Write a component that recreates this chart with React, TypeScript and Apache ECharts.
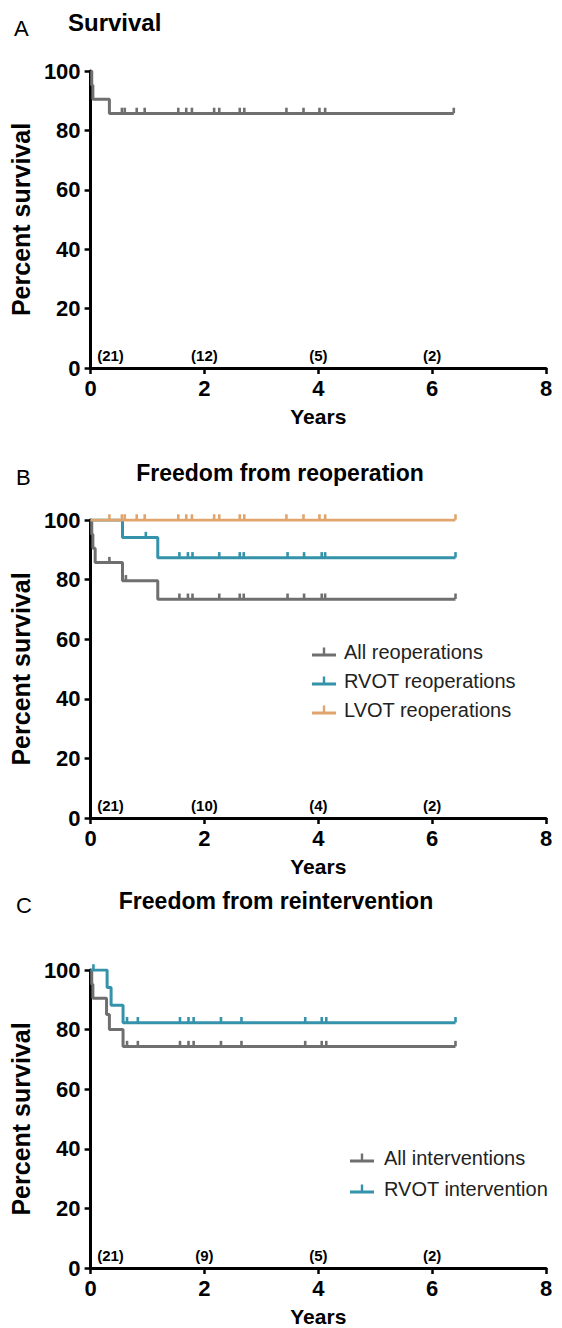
import React, { useEffect, useRef } from "react";
import * as echarts from "echarts";

const FONT = '"Liberation Sans", Arial, Helvetica, sans-serif';
const GREY = "#6f6f6f";
const TEAL = "#3592ab";
const TAN = "#e0a46c";

// ---------- Panel A: Survival ----------
const survTimes = [0, 0.02, 0.04, 0.33, 6.38];
const survValues = [100, 95.2, 90.5, 85.7, 85.7];
const survCensored = [0.55, 0.6, 0.81, 0.95, 1.54, 1.68, 1.78, 2.17, 2.26, 2.62, 2.7, 3.44, 3.74, 4.02, 4.12, 6.38];
const atRiskYears = [0.35, 2, 4, 6];
const atRiskA = [21, 12, 5, 2];

// ---------- Panel B: Freedom from reoperation ----------
const allReopTimes = [0, 0.02, 0.04, 0.08, 0.56, 1.18, 6.41];
const allReopValues = [100, 95.2, 90.5, 85.7, 79.6, 73.4, 73.4];
const allReopCensored = [0.33, 0.62, 1.56, 1.71, 1.79, 2.26, 2.62, 2.69, 3.46, 3.75, 4.06, 4.12, 6.41];
const rvotReopTimes = [0, 0.56, 1.18, 6.41];
const rvotReopValues = [100, 94.1, 87.3, 87.3];
const rvotReopCensored = [0.97, 1.56, 1.71, 1.79, 2.26, 2.62, 2.69, 3.46, 3.75, 4.06, 4.12, 6.41];
const lvotReopTimes = [0, 6.41];
const lvotReopValues = [100, 100];
const lvotReopCensored = [0.33, 0.55, 0.6, 0.81, 0.95, 1.54, 1.68, 1.78, 2.17, 2.26, 2.62, 2.7, 3.44, 3.74, 4.02, 4.12, 6.41];
const atRiskB = [21, 10, 4, 2];

// ---------- Panel C: Freedom from reintervention ----------
const allIntTimes = [0, 0.02, 0.04, 0.28, 0.33, 0.57, 6.41];
const allIntValues = [100, 95.2, 90.5, 85.1, 80.0, 74.3, 74.3];
const allIntCensored = [0.64, 0.83, 1.57, 1.72, 1.81, 2.29, 2.65, 3.77, 4.06, 4.14, 6.41];
const rvotIntTimes = [0, 0.29, 0.36, 0.57, 6.41];
const rvotIntValues = [100, 94.1, 88.2, 82.3, 82.3];
const rvotIntCensored = [0.05, 0.64, 0.83, 1.57, 1.72, 1.81, 2.29, 2.65, 3.77, 4.06, 4.14, 6.41];
const atRiskC = [21, 9, 5, 2];

const yTicks = { min: 0, max: 100, interval: 20 };
const xTicks = { min: 0, max: 8, interval: 2 };

function valueAt(times: number[], values: number[], t: number) {
  let v = values[0];
  for (let i = 0; i < times.length; i++) if (times[i] <= t) v = values[i];
  return v;
}

function kmSeries(name: string, idx: number, times: number[], values: number[], censored: number[], color: string, z: number) {
  return [
    {
      type: "line",
      name,
      xAxisIndex: idx,
      yAxisIndex: idx,
      step: "end",
      showSymbol: false,
      symbol: "none",
      z,
      itemStyle: { color },
      lineStyle: { color, width: 3 },
      data: times.map((t, i) => [t, values[i]]),
    },
    {
      type: "scatter",
      name: name + " (censored)",
      xAxisIndex: idx,
      yAxisIndex: idx,
      symbol: "rect",
      symbolSize: [2.6, 5.5],
      symbolOffset: [0, -3],
      z,
      itemStyle: { color, opacity: 1 },
      data: censored.map((t) => [t, valueAt(times, values, t)]),
    },
  ];
}

function atRiskSeries(idx: number, counts: number[]) {
  return {
    type: "scatter",
    name: "at risk " + idx,
    xAxisIndex: idx,
    yAxisIndex: idx,
    symbol: "circle",
    symbolSize: 1,
    itemStyle: { color: "rgba(0,0,0,0)", opacity: 1 },
    label: {
      show: true,
      position: "top",
      distance: 5,
      formatter: (p: any) => `(${p.value[2]})`,
      fontFamily: FONT,
      fontSize: 15,
      fontWeight: "bold",
      color: "#000",
      opacity: 1,
    },
    data: atRiskYears.map((x, i) => [x, 0, counts[i]]),
  };
}

const grids = [
  { left: 89, top: 71, width: 457, height: 297 },
  { left: 89, top: 520, width: 457, height: 298 },
  { left: 89, top: 970, width: 457, height: 300 },
];

function xAxis(idx: number) {
  return {
    type: "value",
    gridIndex: idx,
    ...xTicks,
    name: "Years",
    nameLocation: "middle",
    nameGap: 38,
    nameTextStyle: { fontFamily: FONT, fontSize: 21, fontWeight: "bold", color: "#000" },
    axisLine: { show: true, onZero: false, lineStyle: { color: "#000", width: 3 } },
    axisTick: { show: true, length: 6, lineStyle: { color: "#000", width: 2.5 } },
    axisLabel: { margin: 9, fontFamily: FONT, fontSize: 22, fontWeight: "bold", color: "#000" },
    splitLine: { show: false },
  };
}

function yAxis(idx: number) {
  return {
    type: "value",
    gridIndex: idx,
    ...yTicks,
    name: "Percent survival",
    nameLocation: "middle",
    nameGap: 47,
    nameTextStyle: { fontFamily: FONT, fontSize: 25, fontWeight: "bold", color: "#000" },
    axisLine: { show: true, onZero: false, lineStyle: { color: "#000", width: 3 } },
    axisTick: { show: true, length: 6, lineStyle: { color: "#000", width: 2.5 } },
    axisLabel: { margin: 10, fontFamily: FONT, fontSize: 22, fontWeight: "bold", color: "#000" },
    splitLine: { show: false },
  };
}

const legendIcon = "path://M0,8 L24,8 L24,11 L0,11 Z M10.8,2 L13.2,2 L13.2,8 L10.8,8 Z";

function text(t: string, x: number, y: number, size: number, bold: boolean, align = "left") {
  return {
    type: "text",
    x,
    y,
    style: {
      text: t,
      fontFamily: FONT,
      fontSize: size,
      fontWeight: bold ? "bold" : "normal",
      fill: "#000",
      textAlign: align,
      textVerticalAlign: "middle",
    },
  };
}

export default function App() {
  const ref = useRef<HTMLDivElement>(null);
  useEffect(() => {
    if (!ref.current) return;
    const chart = echarts.init(ref.current, undefined, { renderer: "svg" });
    const option: any = {
      animation: false,
      backgroundColor: "#fff",
      grid: grids,
      xAxis: [xAxis(0), xAxis(1), xAxis(2)],
      yAxis: [yAxis(0), yAxis(1), yAxis(2)],
      legend: [
        {
          orient: "vertical",
          left: 307,
          top: 637,
          itemWidth: 24,
          itemHeight: 9,
          itemGap: 9,
          icon: legendIcon,
          itemStyle: { borderWidth: 0 },
          textStyle: { fontFamily: FONT, fontSize: 20, color: "#222", padding: [0, 0, 0, 3] },
          data: ["All reoperations", "RVOT reoperations", "LVOT reoperations"],
          selectedMode: false,
        },
        {
          orient: "vertical",
          left: 345,
          top: 1143,
          itemWidth: 24,
          itemHeight: 9,
          itemGap: 11,
          icon: legendIcon,
          itemStyle: { borderWidth: 0 },
          textStyle: { fontFamily: FONT, fontSize: 20, color: "#222", padding: [0, 0, 0, 5] },
          data: ["All interventions", "RVOT intervention"],
          selectedMode: false,
        },
      ],
      graphic: [
        text("A", 14, 28, 22, false),
        text("Survival", 68, 22, 24, true),
        text("B", 16, 477, 22, false),
        text("Freedom from reoperation", 280, 473, 23, true, "center"),
        text("C", 16, 905, 22, false),
        text("Freedom from reintervention", 276, 901, 23, true, "center"),
      ],
      series: [
        ...kmSeries("Survival", 0, survTimes, survValues, survCensored, GREY, 3),
        atRiskSeries(0, atRiskA),
        ...kmSeries("All reoperations", 1, allReopTimes, allReopValues, allReopCensored, GREY, 3),
        ...kmSeries("RVOT reoperations", 1, rvotReopTimes, rvotReopValues, rvotReopCensored, TEAL, 4),
        ...kmSeries("LVOT reoperations", 1, lvotReopTimes, lvotReopValues, lvotReopCensored, TAN, 5),
        atRiskSeries(1, atRiskB),
        ...kmSeries("All interventions", 2, allIntTimes, allIntValues, allIntCensored, GREY, 3),
        ...kmSeries("RVOT intervention", 2, rvotIntTimes, rvotIntValues, rvotIntCensored, TEAL, 4),
        atRiskSeries(2, atRiskC),
      ],
    };
    chart.setOption(option);
    return () => chart.dispose();
  }, []);
  return (
    <div
      ref={ref}
      style={{ position: "fixed", left: 0, top: 0, width: 562, height: 1328, background: "#fff" }}
    />
  );
}
